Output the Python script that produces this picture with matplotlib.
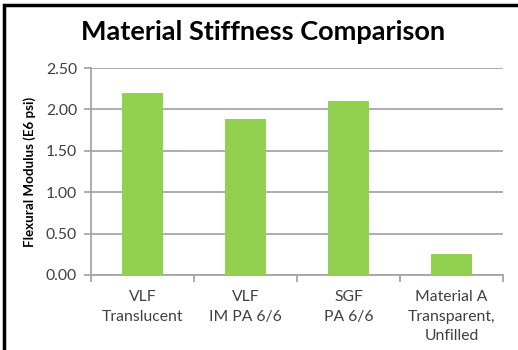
import matplotlib.pyplot as plt
import matplotlib.patches as mpatches
import numpy as np

plt.rcParams['font.family'] = ['Lato', 'DejaVu Sans']

# data
categories = ['VLF\nTranslucent', 'VLF\nIM PA 6/6', 'SGF\nPA 6/6', 'Material A\nTransparent,\nUnfilled']
modulus = [2.20, 1.89, 2.10, 0.25]
yticks = [0.0, 0.5, 1.0, 1.5, 2.0, 2.5]

fig = plt.figure(figsize=(5.18, 3.5), dpi=100)
ax = fig.add_axes([0.1757, 0.2143, 0.7953, 0.5914])

x = np.arange(len(categories))
ax.bar(x, modulus, width=0.4, color='#92D050', zorder=3)

ax.set_xlim(-0.5, len(categories) - 0.5)
ax.set_ylim(0, 2.5)
ax.set_yticks(yticks)
ax.set_yticklabels(['%.2f' % v for v in yticks])
ax.yaxis.grid(True, color='#a6a6a6', linewidth=1.3, zorder=0)

# category labels centred, tick marks between categories
ax.set_xticks(x)
ax.set_xticklabels(categories, linespacing=1.5)
ax.tick_params(axis='x', length=0, pad=11)
ax.set_xticks(np.arange(len(categories) + 1) - 0.5, minor=True)
ax.tick_params(axis='x', which='minor', length=5, color='#a6a6a6', width=1.3)
ax.tick_params(axis='y', length=5, color='#a6a6a6', width=1.3, pad=5)
ax.tick_params(labelsize=11.3, labelcolor='#404040')

for s in ['top', 'right']:
    ax.spines[s].set_visible(False)
for s in ['left', 'bottom']:
    ax.spines[s].set_color('#a6a6a6')
    ax.spines[s].set_linewidth(1.3)

ax.set_ylabel('Flexural Modulus (E6 psi)', fontsize=9.6, fontweight='bold', labelpad=7)
fig.text(0.508, 0.908, 'Material Stiffness Comparison', ha='center', va='center',
         fontsize=19.5, fontweight='bold')

# black frame on the left and top edges (image is cropped on the other sides)
fig.add_artist(mpatches.Rectangle((0.0077, -0.1), 1.2, 1.087, transform=fig.transFigure,
                                  fill=False, edgecolor='black', linewidth=2.5))

fig.savefig('out.png', dpi=100)
